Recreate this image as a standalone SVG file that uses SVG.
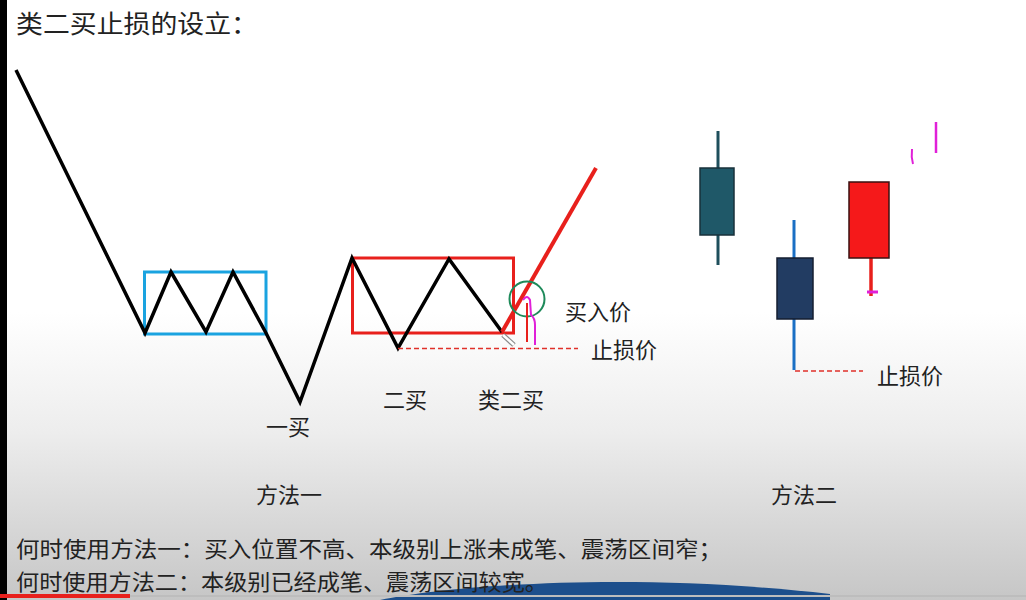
<svg xmlns="http://www.w3.org/2000/svg" width="1026" height="600" viewBox="0 0 1026 600">
<defs>
<linearGradient id="bg" x1="0" y1="0" x2="0" y2="1">
<stop offset="0" stop-color="#ffffff"/>
<stop offset="0.52" stop-color="#ffffff"/>
<stop offset="0.72" stop-color="#ededed"/>
<stop offset="0.87" stop-color="#d8d8d8"/>
<stop offset="1" stop-color="#c6c6c6"/>
</linearGradient>
<style>
text{font-family:"Microsoft YaHei","Noto Sans CJK SC",sans-serif;fill:#222;}
.lbl{font-size:22px;text-anchor:middle;}
.line{fill:none;stroke:#000;stroke-width:3.5;stroke-linejoin:miter;}
.dash{stroke:#e0302a;stroke-width:1.6;stroke-dasharray:5,3;fill:none;}
</style>
</defs>
<rect width="1026" height="600" fill="url(#bg)"/>
<rect x="0" y="0" width="7" height="600" fill="#000"/>
<g id="bottom-decor">
<path d="M380,600 C460,584 640,572 830,594 L830,600 Z" fill="#1d4f8c"/>
<rect x="0" y="595" width="1026" height="2" fill="#bdbdbd"/>
<rect x="0" y="594" width="130" height="4" fill="#e8201c"/>
</g>
<g id="title"><text x="16" y="33" font-size="25" textLength="242" lengthAdjust="spacingAndGlyphs">类二买止损的设立：</text></g>
<g id="method1">
<g id="blue-box"><rect x="144.5" y="272" width="121.5" height="62" fill="none" stroke="#1aa3e0" stroke-width="3"/></g>
<g id="red-box"><rect x="352.5" y="258" width="161" height="75" fill="none" stroke="#e8201c" stroke-width="3"/></g>
<g id="connectors">
<polyline class="line" points="16,70 145,333 171,272 206,332 233,272 266,333 300,402 352,258 398,348 449,259 502,332"/>
<line x1="502" y1="332" x2="596" y2="168" stroke="#e8201c" stroke-width="4"/>
<line class="dash" x1="398" y1="348.5" x2="578" y2="348.5"/>
</g>
<g id="buy-marker">
<circle cx="527" cy="299" r="17.5" fill="none" stroke="#1e8a5a" stroke-width="2"/>
<line x1="527" y1="303" x2="527" y2="342" stroke="#e8201c" stroke-width="2"/>
<path d="M523,300 Q527,294 530,300 L531,315 Q535,318 535,325 L535,345" fill="none" stroke="#e020d8" stroke-width="2"/>
<path d="M503,335 L514,345" stroke="#8a8a8a" stroke-width="5" stroke-linecap="butt"/>
<path d="M503,335 L514,345" stroke="#ffffff" stroke-width="2.5"/>
</g>
<g id="labels1">
<text class="lbl" x="598" y="320">买入价</text>
<text class="lbl" x="624" y="358">止损价</text>
<text class="lbl" x="288" y="435">一买</text>
<text class="lbl" x="405" y="408">二买</text>
<text class="lbl" x="511" y="408">类二买</text>
<text class="lbl" x="289" y="503">方法一</text>
</g>
</g>
<g id="method2">
<g id="candle1">
<line x1="718" y1="131" x2="718" y2="265" stroke="#1e4f5c" stroke-width="3"/>
<rect x="700" y="168" width="34" height="67" fill="#1f5868" stroke="#18303a" stroke-width="1.5"/>
</g>
<g id="candle2">
<line x1="794" y1="220" x2="794" y2="370" stroke="#1a6fc4" stroke-width="3"/>
<rect x="777" y="258" width="36" height="61" fill="#223c62" stroke="#141e30" stroke-width="1.5"/>
</g>
<g id="candle3">
<line x1="871" y1="258" x2="871" y2="296" stroke="#e8201c" stroke-width="3.5"/>
<rect x="849" y="182" width="40" height="76" fill="#f5191a" stroke="#3a1010" stroke-width="1.5"/>
<line x1="867" y1="292" x2="878" y2="292" stroke="#e020d8" stroke-width="3"/>
</g>
<g id="marks">
<path d="M912,149 Q911,157 913,164" fill="none" stroke="#e020d8" stroke-width="2"/>
<line x1="936" y1="122" x2="936" y2="153" stroke="#e020d8" stroke-width="2.5"/>
</g>
<line class="dash" x1="795" y1="371" x2="863" y2="371"/>
<text class="lbl" x="910" y="384">止损价</text>
<text class="lbl" x="804" y="503">方法二</text>
</g>
<g id="notes">
<text x="16" y="557" font-size="22" textLength="706" lengthAdjust="spacingAndGlyphs">何时使用方法一：买入位置不高、本级别上涨未成笔、震荡区间窄；</text>
<text x="16" y="590" font-size="22" textLength="532" lengthAdjust="spacingAndGlyphs">何时使用方法二：本级别已经成笔、震荡区间较宽。</text>
</g>
</svg>
